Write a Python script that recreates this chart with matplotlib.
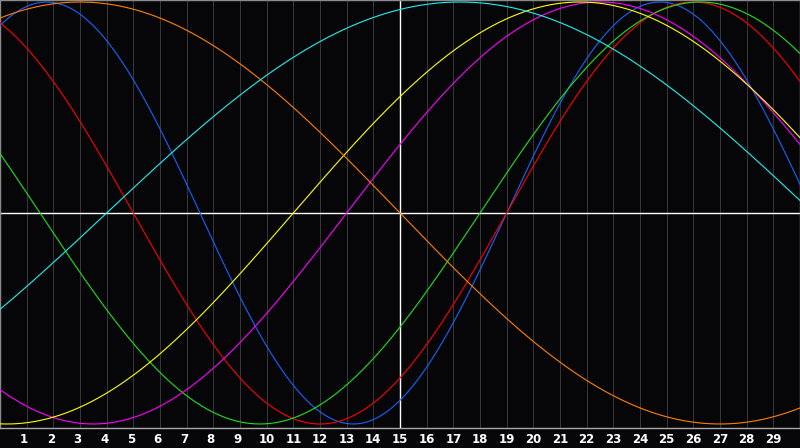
import numpy as np
import matplotlib
matplotlib.use("Agg")
import matplotlib.pyplot as plt
import matplotlib.transforms as mtransforms

# biorhythm style chart: 30 days, one sine per cycle
days = list(range(1, 30))
day_labels = [str(d) for d in days]
today = 15

# cycle length (days) and the day on which each curve crosses zero going up
periods = [23, 28, 33, 38, 43, 48, 53]
zero_days = [19, 19, 18, 13, 11, -9, 4]
colors = ["#1464ff", "#ff0000", "#20e020", "#ff00ff", "#ffff00", "#ff8000", "#20f0f0"]

bg = "#060609"

fig = plt.figure(figsize=(8, 4.48), dpi=100, facecolor=bg)
ax = fig.add_axes([0, 20 / 448, 1, 428 / 448])
ax.set_facecolor(bg)
ax.set_xlim(0, 30)
ax.set_ylim(-1.019, 1.0095)

# day grid
ax.vlines(days, -2, 2, colors="#363636", linewidth=0.75, zorder=1)

# cross hair
ax.axhline(0, color="white", linewidth=1.0, zorder=2)
ax.axvline(today, color="white", linewidth=1.0, zorder=2)

x = np.linspace(0, 30, 1501)
for p, z, c in zip(periods, zero_days, colors):
    y = np.sin(2 * np.pi * (x - z) / p)
    ax.plot(x, y, color=c, linewidth=0.8, zorder=3)

for s in ax.spines.values():
    s.set_color("#8a8a8a")
    s.set_linewidth(1.0)
ax.spines["bottom"].set_color("#a8a8a8")
ax.set_xticks([])
ax.set_yticks([])

# labels under the chart
for d, lab in zip(days, day_labels):
    tr = ax.get_xaxis_transform()
    if len(lab) == 1:
        tr = tr + mtransforms.ScaledTranslation(-2.5 / 100, 0, fig.dpi_scale_trans)
    ax.text(d, -15 / 428, lab, transform=tr, ha="center", va="baseline",
            color="white", fontsize=8.5, fontweight="bold", family="DejaVu Sans",
            clip_on=False)

fig.savefig("out.png", dpi=100, facecolor=bg)
